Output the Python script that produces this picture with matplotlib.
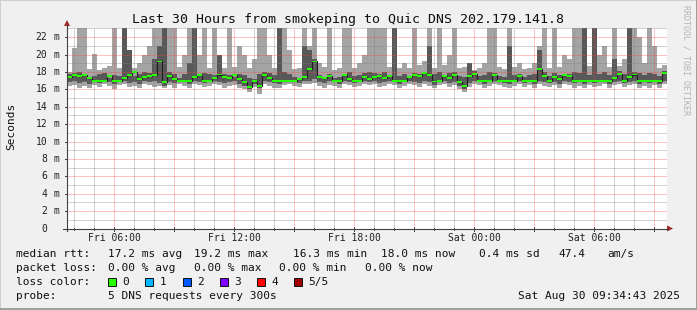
import matplotlib
matplotlib.use("Agg")
import matplotlib.pyplot as plt
import numpy as np
from matplotlib.patches import Rectangle, Polygon
from matplotlib.lines import Line2D
from matplotlib.transforms import blended_transform_factory

W, H = 697, 310
MONO = "DejaVu Sans Mono"

title = "Last 30 Hours from smokeping to Quic DNS 202.179.141.8"
y_label = "Seconds"
watermark = "RRDTOOL / TOBI OETIKER"

# time axis: hours since Fri 00:00, one sample per 15 min
T0 = 3.65
STEP = 0.25
tick_hours = [6, 12, 18, 24, 30]
tick_labels = ["Fri 06:00", "Fri 12:00", "Fri 18:00", "Sat 00:00", "Sat 06:00"]
y_ticks = list(range(0, 23, 2))

# rtt in ms: 5 pings per sample -> p1 (min), p2, median, p4, p5 (max)
rtt_max = [18.0, 20.7, 23.5, 23.5, 18.3, 20.1, 18.2, 18.5, 18.7, 23.5, 18.4, 23.5, 20.5, 18.5, 19.0, 20.0, 21.0, 23.5, 23.5, 23.5,
           23.5, 23.5, 18.6, 20.0, 23.5, 23.5, 20.0, 23.5, 18.5, 23.5, 19.5, 18.4, 23.5, 18.6, 21.0, 20.0, 18.5, 19.5, 23.5, 23.5,
           20.0, 18.5, 23.5, 23.5, 20.5, 18.3, 18.4, 23.5, 21.0, 23.5, 19.0, 18.6, 23.5, 18.2, 18.4, 23.5, 23.5, 18.5, 19.0, 20.0,
           23.5, 23.5, 23.5, 23.5, 18.6, 23.5, 18.4, 19.0, 18.5, 23.5, 18.8, 19.3, 23.5, 18.5, 23.5, 18.8, 20.0, 23.5, 18.5, 18.6,
           19.0, 18.2, 18.5, 19.0, 23.5, 23.5, 18.6, 18.3, 23.5, 18.6, 19.0, 18.3, 18.5, 19.0, 21.0, 23.5, 18.5, 23.5, 18.6, 20.0,
           19.5, 23.5, 23.5, 23.5, 18.7, 23.5, 20.0, 21.0, 18.6, 23.5, 18.7, 19.5, 23.5, 23.5, 22.0, 19.0, 23.5, 21.0, 18.5, 18.8]
rtt_p4 = [17.8, 17.9, 18.0, 17.8, 17.4, 17.5, 17.8, 17.9, 17.3, 17.6, 17.5, 23.5, 20.5, 17.5, 17.8, 18.0, 17.9, 19.5, 21.0, 23.5,
          18.0, 17.8, 17.3, 17.8, 19.0, 23.5, 17.5, 17.9, 17.8, 17.6, 20.0, 17.8, 17.6, 17.4, 17.8, 17.6, 17.3, 17.2, 17.8, 18.0,
          17.9, 17.6, 23.5, 18.0, 17.8, 17.4, 17.3, 21.0, 20.5, 19.5, 17.6, 17.4, 17.8, 17.3, 17.4, 17.8, 18.0, 17.5, 17.6, 17.9,
          18.0, 17.9, 17.8, 18.0, 17.6, 23.5, 17.5, 17.8, 17.5, 17.9, 17.8, 18.0, 21.0, 17.8, 18.0, 17.7, 17.9, 18.0, 17.5, 17.4,
          19.0, 18.1, 17.5, 17.6, 18.0, 17.9, 17.5, 17.4, 21.0, 17.6, 17.8, 17.4, 17.6, 17.8, 20.5, 18.0, 17.5, 17.9, 17.6, 17.8,
          17.8, 18.0, 17.9, 23.5, 17.6, 23.5, 17.8, 18.0, 17.6, 19.5, 18.1, 17.8, 23.5, 18.0, 17.9, 17.6, 17.9, 17.8, 17.5, 18.1]
rtt_median = [17.4, 17.6, 17.5, 17.6, 17.3, 17.0, 17.0, 17.0, 17.5, 17.0, 17.0, 17.3, 17.6, 18.0, 17.2, 17.4, 17.5, 17.6, 19.2, 16.8,
              17.5, 17.2, 17.0, 17.0, 17.0, 17.4, 17.6, 17.0, 17.0, 17.3, 17.7, 17.4, 17.3, 17.6, 17.2, 16.8, 16.3, 17.0, 16.4, 17.6,
              17.3, 17.0, 17.0, 17.0, 17.0, 17.0, 17.2, 17.4, 18.3, 19.2, 17.4, 17.3, 17.5, 17.0, 17.0, 17.6, 17.2, 17.0, 17.0, 17.4,
              17.2, 17.4, 17.5, 17.3, 17.5, 17.0, 17.0, 17.0, 17.4, 17.6, 17.5, 17.9, 17.6, 16.9, 17.0, 17.5, 17.3, 17.6, 16.8, 16.4,
              17.5, 17.8, 17.0, 17.0, 17.0, 17.6, 17.0, 17.0, 17.0, 17.0, 17.5, 17.0, 17.0, 17.0, 18.3, 17.5, 17.0, 17.4, 17.2, 17.6,
              17.5, 17.0, 17.0, 17.0, 17.0, 17.0, 17.0, 17.0, 17.0, 17.3, 17.8, 17.0, 17.4, 17.7, 17.0, 17.0, 17.0, 17.0, 17.0, 17.9]
rtt_p2 = [16.8, 16.9, 16.7, 16.8, 16.6, 16.8, 16.7, 16.9, 16.8, 16.6, 16.8, 16.9, 16.7, 16.8, 16.6, 16.9, 16.8, 16.9, 16.7, 16.4,
          16.8, 16.7, 16.9, 16.8, 16.6, 16.9, 16.8, 16.7, 16.8, 16.9, 16.8, 16.7, 16.8, 16.9, 16.6, 16.4, 16.0, 16.6, 16.1, 16.9,
          16.8, 16.7, 16.6, 16.8, 16.9, 16.8, 16.7, 16.9, 17.0, 17.2, 16.8, 16.7, 16.9, 16.8, 16.6, 16.9, 16.8, 16.7, 16.8, 16.9,
          16.8, 16.9, 16.7, 16.8, 16.9, 16.8, 16.6, 16.8, 16.9, 16.8, 16.7, 16.9, 16.8, 16.5, 16.8, 16.9, 16.7, 16.8, 16.4, 16.0,
          16.7, 16.9, 16.8, 16.6, 16.8, 16.9, 16.8, 16.7, 16.6, 16.8, 16.9, 16.7, 16.8, 16.6, 16.9, 16.8, 16.7, 16.8, 16.6, 16.9,
          16.8, 16.7, 16.8, 16.6, 16.8, 16.7, 16.8, 16.9, 16.6, 16.8, 16.9, 16.7, 16.8, 16.9, 16.6, 16.8, 16.7, 16.8, 16.6, 16.9]
rtt_min = [16.4, 16.5, 16.2, 16.4, 16.1, 16.5, 16.3, 16.6, 16.4, 16.0, 16.5, 16.6, 16.3, 16.4, 16.2, 16.6, 16.5, 16.3, 16.4, 16.1,
           16.5, 16.2, 16.6, 16.4, 16.1, 16.6, 16.5, 16.3, 16.4, 16.6, 16.5, 16.2, 16.4, 16.5, 16.1, 16.0, 15.7, 16.3, 15.5, 16.6,
           16.4, 16.2, 16.1, 16.5, 16.6, 16.4, 16.3, 16.6, 16.6, 16.7, 16.4, 16.2, 16.5, 16.4, 16.1, 16.6, 16.5, 16.3, 16.4, 16.6,
           16.5, 16.6, 16.3, 16.4, 16.6, 16.5, 16.2, 16.4, 16.6, 16.5, 16.3, 16.6, 16.4, 16.1, 16.5, 16.6, 16.3, 16.5, 16.0, 15.7,
           16.3, 16.6, 16.5, 16.2, 16.4, 16.6, 16.5, 16.3, 16.1, 16.4, 16.6, 16.3, 16.5, 16.1, 16.6, 16.4, 16.3, 16.5, 16.2, 16.6,
           16.5, 16.2, 16.4, 16.1, 16.5, 16.3, 16.4, 16.6, 16.1, 16.5, 16.6, 16.3, 16.5, 16.6, 16.2, 16.4, 16.2, 16.5, 16.1, 16.6]

stats_rtt = ["17.2 ms avg", "19.2 ms max", "16.3 ms min", "18.0 ms now", "0.4 ms sd", "47.4", "am/s"]
stats_loss = ["0.00 % avg", "0.00 % max", "0.00 % min", "0.00 % now"]
loss_names = ["0", "1", "2", "3", "4", "5/5"]
loss_colors = ["#26ff00", "#00b8ff", "#0059ff", "#7e00ff", "#ff0000", "#a10000"]
probe_text = "5 DNS requests every 300s"
stamp = "Sat Aug 30 09:34:43 2025"


def fx(x):
    return x / W


def fy(y):
    return 1 - y / H


def stepped(v):
    v = np.asarray(v, dtype=float)
    return np.append(v, v[-1])


fig = plt.figure(figsize=(W / 100, H / 100), dpi=100, facecolor="#f0f0f0")
ax = fig.add_axes([fx(67), fy(228.5), 600 / W, 200.5 / H])
ax.set_facecolor("white")
ax.set_xlim(T0, T0 + 30)
ax.set_ylim(0, 23.05)
for s in ax.spines.values():
    s.set_visible(False)
ax.set_xticks([])
ax.set_yticks([])

n = len(rtt_median)
edges = T0 + STEP * np.arange(n + 1)

# smoke
ax.fill_between(edges, stepped(rtt_min), stepped(rtt_max), step="post", color="#a4a4a4", lw=0, zorder=2)
ax.fill_between(edges, stepped(rtt_p2), stepped(rtt_p4), step="post", color="#585858", lw=0, zorder=2.1)

# grid on top of the smoke, 1px dots
minor_c = (0.5, 0.5, 0.5, 0.35)
major_c = (1.0, 0.25, 0.25, 0.32)
dots = (0, (1, 1))
for v in range(1, 24):
    ax.axhline(v, color=major_c if v % 2 == 0 else minor_c, lw=0.72, ls=dots, zorder=3, antialiased=False)
for h in range(4, 34):
    ax.axvline(h, color=major_c if h % 3 == 0 else minor_c, lw=0.72, ls=dots, zorder=3, antialiased=False)

# median: dark line with a loss-coloured band
med = stepped(rtt_median)
ax.step(edges, med, where="post", color="#202020", lw=0.8, zorder=4)
ax.fill_between(edges, med - 0.11, med + 0.11, step="post", color=loss_colors[0], lw=0, zorder=5)

# axes with arrows
axis_c = "#404040"
arrow_c = "#a02828"
fig.add_artist(Line2D([fx(67), fx(67)], [fy(231), fy(25)], color=axis_c, lw=0.8))
fig.add_artist(Line2D([fx(63), fx(668)], [fy(228.5), fy(228.5)], color=axis_c, lw=0.8))
fig.add_artist(Polygon([[fx(64), fy(26)], [fx(70), fy(26)], [fx(67), fy(20)]], closed=True,
                       color=arrow_c, lw=0))
fig.add_artist(Polygon([[fx(667), fy(225.5)], [fx(667), fy(231.5)], [fx(673), fy(228.5)]], closed=True,
                       color=arrow_c, lw=0))

tx = blended_transform_factory(ax.transData, fig.transFigure)
ty = blended_transform_factory(fig.transFigure, ax.transData)
for h in range(4, 34):
    L = 2 if h % 3 == 0 else 1
    fig.add_artist(Line2D([h, h], [fy(228.5 - L), fy(228.5 + L)], transform=tx, color=axis_c, lw=0.7))
for h, lab in zip(tick_hours, tick_labels):
    fig.text(h, fy(238), lab, transform=tx, ha="center", va="center", family=MONO, fontsize=7, color="#202020")
for v in y_ticks:
    if v == 0:
        fig.text(fx(47.5), v, "0", transform=ty, ha="right", va="center", family=MONO, fontsize=7, color="#202020")
    else:
        fig.text(fx(47.5), v, str(v), transform=ty, ha="right", va="center", family=MONO, fontsize=7, color="#202020")
        fig.text(fx(53.5), v, "m", transform=ty, ha="left", va="center", family=MONO, fontsize=7, color="#202020")
    fig.add_artist(Line2D([fx(65), fx(67)], [v, v], transform=ty, color=axis_c, lw=0.7))

# titles
fig.text(fx(348), fy(19), title, ha="center", va="center", family=MONO, fontsize=9.5, color="#101010")
fig.text(fx(11), fy(126), y_label, ha="center", va="center", rotation=90, family=MONO, fontsize=8, color="#101010")
fig.text(fx(686), fy(60), watermark, ha="center", va="center", rotation=270, family=MONO, fontsize=6,
         color="#b4b4b4")

# legend rows
txt = dict(va="center", family=MONO, fontsize=8, color="#101010")
fig.text(fx(16), fy(254), "median rtt:", **txt)
for x, s in zip([107.6, 194.2, 293.3, 381.3, 479.1, 558.7, 607.1], stats_rtt):
    fig.text(fx(x), fy(254), s, **txt)
fig.text(fx(16), fy(268), "packet loss:", **txt)
for x, s in zip([107.6, 194.2, 279.1, 365.3], stats_loss):
    fig.text(fx(x), fy(268), s, **txt)
fig.text(fx(16), fy(282), "loss color:", **txt)
for x, s, c in zip([108, 145, 183, 219.5, 256.5, 293.5], loss_names, loss_colors):
    fig.add_artist(Rectangle((fx(x), fy(286)), 8 / W, 8 / H, facecolor=c, edgecolor="#101010", lw=0.7))
    fig.text(fx(x + 14.5), fy(282), s, **txt)
fig.text(fx(16), fy(296), "probe:", **txt)
fig.text(fx(107.6), fy(296), probe_text, **txt)
fig.text(fx(680), fy(296), stamp, ha="right", va="center", family=MONO, fontsize=8, color="#101010")

# 3d frame
fig.add_artist(Line2D([0, 0, 1], [0, 1, 1], color="#cfcfcf", lw=1.4))
fig.add_artist(Line2D([0, 1, 1], [0.002, 0.002, 1], color="#9e9e9e", lw=1.4))

fig.savefig("out.png", dpi=100, facecolor=fig.get_facecolor())
